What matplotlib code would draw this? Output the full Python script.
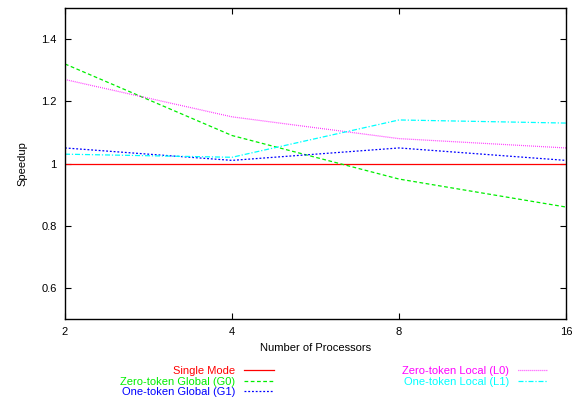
import matplotlib
matplotlib.use("Agg")
import matplotlib.pyplot as plt

plt.rcParams['font.family'] = ['Liberation Sans', 'DejaVu Sans']
plt.rcParams['font.size'] = 8

# data
processors = [2, 4, 8, 16]
single_mode = [1.0, 1.0, 1.0, 1.0]
zero_global = [1.32, 1.09, 0.95, 0.86]
one_global = [1.05, 1.01, 1.05, 1.01]
zero_local = [1.27, 1.15, 1.08, 1.05]
one_local = [1.03, 1.02, 1.14, 1.13]
y_ticks = [0.6, 0.8, 1.0, 1.2, 1.4]
y_tick_labels = ['0.6', '0.8', '1', '1.2', '1.4']

fig = plt.figure(figsize=(5.72, 4.07), dpi=100)
ax = fig.add_axes([65 / 572, 88 / 407, 501 / 572, 311 / 407])

lw = 0.9
l_single, = ax.plot(processors, single_mode, color='#ff0000', lw=lw, label='Single Mode')
l_g0, = ax.plot(processors, zero_global, color='#00ee00', lw=lw, dashes=(3, 2), label='Zero-token Global (G0)')
l_g1, = ax.plot(processors, one_global, color='#0000ff', lw=lw, dashes=(1.5, 1.5), label='One-token Global (G1)')
l_l0, = ax.plot(processors, zero_local, color='#ff00ff', lw=lw, dashes=(0.6, 1.0), label='Zero-token Local (L0)')
l_l1, = ax.plot(processors, one_local, color='#00ffff', lw=lw, dashes=(4, 1.5, 1, 1.5), label='One-token Local (L1)')

ax.set_xscale('log', base=2)
ax.set_xlim(2, 16)
ax.set_ylim(0.5, 1.5)
ax.set_xticks(processors)
ax.set_xticklabels([str(p) for p in processors])
ax.minorticks_off()
ax.set_yticks(y_ticks)
ax.set_yticklabels(y_tick_labels)
ax.tick_params(direction='in', top=True, right=True, length=4, width=0.8, pad=6)
for s in ax.spines.values():
    s.set_linewidth(1.0)

ax.set_xlabel('Number of Processors', labelpad=4)
ax.set_ylabel('Speedup', labelpad=10)

leg_kw = dict(frameon=False, markerfirst=False, labelcolor='linecolor', borderpad=0,
              borderaxespad=0, handlelength=2.7, handletextpad=0.8, labelspacing=0.05,
              loc='upper right', bbox_transform=fig.transFigure)
leg1 = ax.legend(handles=[l_single, l_g0, l_g1], bbox_to_anchor=(274 / 572, 41 / 407), **leg_kw)
ax.add_artist(leg1)
ax.legend(handles=[l_l0, l_l1], bbox_to_anchor=(548 / 572, 41 / 407), **leg_kw)

fig.savefig('out.png', dpi=100)
